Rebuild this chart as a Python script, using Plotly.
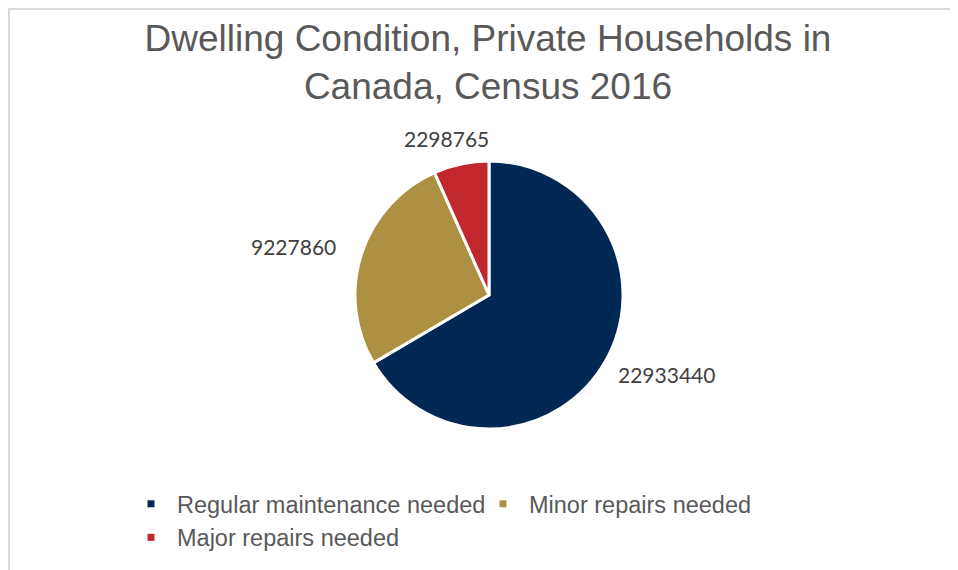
import math
import plotly.graph_objects as go

# ---- data ----
categories = ["Regular maintenance needed", "Minor repairs needed", "Major repairs needed"]
households = [22933440, 9227860, 2298765]
colors = ["#002855", "#AD9042", "#C1272D"]
title_text = "Dwelling Condition, Private Households in<br>Canada, Census 2016"

# ---- layout constants (pixels, figure coordinates) ----
W, H = 958, 570
CX, CY = 481, 287          # pie centre (from top-left of figure)
R = 134                    # pie radius
LAB_A, LAB_B = 205, 160    # label ellipse half-axes

fig = go.Figure()
fig.add_trace(go.Pie(
    labels=categories,
    values=households,
    sort=False,
    direction="clockwise",
    rotation=0,
    marker=dict(colors=colors, line=dict(color="white", width=3)),
    textinfo="none",
    hoverinfo="label+value+percent",
    showlegend=False,
    domain=dict(x=[(CX - R) / W, (CX + R) / W],
                y=[(H - CY - R) / H, (H - CY + R) / H]),
))

# legend entries with small square markers
for name, col in zip(categories, colors):
    fig.add_trace(go.Scatter(
        x=[None], y=[None], mode="markers", name=name,
        marker=dict(symbol="square", size=7, color=col),
        hoverinfo="skip",
    ))

# data labels placed outside the slices, from each slice's mid angle
total = sum(households)
cum = 0
annotations = []
for v in households:
    mid = (cum + v / 2) / total * 2 * math.pi
    cum += v
    px = CX + LAB_A * math.sin(mid)
    py = (H - CY) + LAB_B * math.cos(mid)
    annotations.append(dict(
        x=px / W, y=py / H, xref="paper", yref="paper",
        text=str(v), showarrow=False, xanchor="center", yanchor="middle",
        font=dict(family="Lato, Open Sans, sans-serif", size=21, color="#404040"),
    ))

fig.update_layout(
    width=W, height=H,
    margin=dict(l=0, r=0, t=0, b=0),
    paper_bgcolor="white", plot_bgcolor="white",
    title=dict(text=title_text, x=480 / W, xanchor="center",
               y=1 - 43 / H, yanchor="middle", yref="container",
               font=dict(family="Liberation Sans, Arial, sans-serif", size=37, color="#595959")),
    xaxis=dict(visible=False), yaxis=dict(visible=False),
    showlegend=True,
    legend=dict(orientation="h", x=117 / W, xanchor="left", y=1 - 474 / H, yanchor="top",
                entrywidth=295, entrywidthmode="pixels", itemwidth=42,
                font=dict(family="Liberation Sans, Arial, sans-serif", size=23.5, color="#595959"),
                bgcolor="rgba(0,0,0,0)"),
    annotations=annotations,
    shapes=[
        dict(type="line", xref="paper", yref="paper", x0=0, x1=1, y0=1 - 1 / H, y1=1 - 1 / H,
             line=dict(color="#D9D9D9", width=2)),
        dict(type="line", xref="paper", yref="paper", x0=1 / W, x1=1 / W, y0=0, y1=1,
             line=dict(color="#D9D9D9", width=2)),
    ],
)

fig.write_html("out.html")
